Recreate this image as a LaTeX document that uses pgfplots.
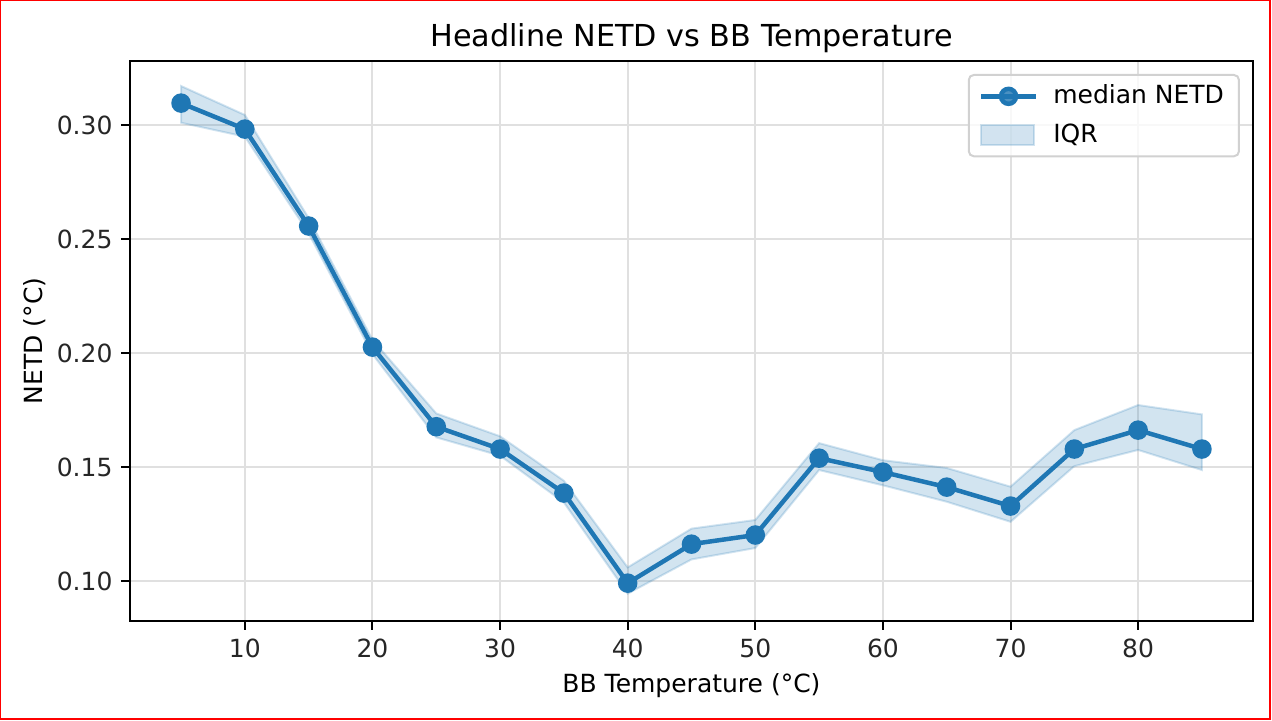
\documentclass[border=0pt]{standalone}
\usepackage{fontspec}
\setmainfont{DejaVu Sans}
\usepackage{pgfplots}
\pgfplotsset{compat=1.18}
\usepackage{pgfplotstable}
\definecolor{tabblue}{HTML}{1F77B4}
\newlength\px
\setlength\px{0.4pt}

\pgfplotsset{
    iqr legend/.style={legend image code/.code={\draw[#1, sharp corners] (0pt,-4pt) rectangle (21pt,4pt);}},
    med legend/.style={legend image code/.code={\draw[mark repeat=2, mark phase=2, sharp corners] plot coordinates {(0pt,0pt) (11pt,0pt) (22pt,0pt)};}},
    every axis title/.style={at={(axis description cs:0.5,1.0262)}, anchor=base, font=\fontsize{12.1}{14}\selectfont},
}

% median NETD per blackbody temperature
\pgfplotstableread{
x   med
5   0.3096
10  0.2982
15  0.2557
20  0.2026
25  0.1677
30  0.1579
35  0.1386
40  0.0991
45  0.1162
50  0.1202
55  0.1539
60  0.1478
65  0.1412
70  0.1329
75  0.1579
80  0.1662
85  0.1579
}\median

% IQR band outline: q3 going up in x, then q1 coming back
\pgfplotstableread{
x   y
5   0.3171
10  0.3044
15  0.2592
20  0.2058
25  0.1735
30  0.1635
35  0.1440
40  0.1060
45  0.1230
50  0.1268
55  0.1605
60  0.1530
65  0.1496
70  0.1414
75  0.1662
80  0.1772
85  0.1731
85  0.1487
80  0.1575
75  0.1504
70  0.1260
65  0.1348
60  0.1420
55  0.1487
50  0.1145
45  0.1095
40  0.0945
35  0.1345
30  0.1550
25  0.1630
20  0.1995
15  0.2525
10  0.2949
5   0.3010
}\iqr

\begin{document}
\begin{tikzpicture}
\useasboundingbox (0,0) rectangle (1272\px,720\px);
\draw[red, line width=1.5\px] (0.75\px,1\px) rectangle (1270\px,719.25\px);
\begin{axis}[
    at={(130\px,99\px)}, anchor=south west,
    scale only axis, width=1123\px, height=560.3\px,
    xmin=1, xmax=89, ymin=0.0825, ymax=0.3282,
    xtick={10,20,...,80},
    ytick={0.10,0.15,0.20,0.25,0.30},
    /pgf/number format/assume math mode=true,
    yticklabel style={/pgf/number format/.cd, fixed, fixed zerofill, precision=2},
    every tick label/.append style={font=\fontsize{10}{12}\selectfont, text=black!85},
    tick align=outside, tick pos=left,
    major tick length=3.5pt,
    every tick/.style={black, line width=0.8pt},
    axis line style={black, line width=0.8pt},
    grid=major,
    major grid style={black!12, line width=0.8pt},
    title={Headline NETD vs BB Temperature},
    xlabel={BB Temperature (°C)},
    xlabel style={at={(axis description cs:0.5,-0.128)}, anchor=base, font=\fontsize{10}{12}\selectfont},
    ylabel={NETD (°C)},
    ylabel style={at={(axis description cs:-0.0777,0.5)}, anchor=base, font=\fontsize{10}{12}\selectfont},
    legend cell align=left,
    legend style={at={(rel axis cs:0.9884,0.9763)}, anchor=north east,
        draw=black!18, line width=0.8pt, rounded corners=2pt,
        fill=white, fill opacity=0.8, text opacity=1,
        font=\fontsize{10}{12}\selectfont,
        inner xsep=4pt, inner ysep=2pt, row sep=2.5pt,
        /tikz/every odd column/.append style={column sep=4pt}},
]
\addplot[tabblue, line width=1.8pt, mark=*, mark size=3pt, mark options={solid}, med legend]
    table[x=x, y=med] {\median};
\addlegendentry{median NETD}
\addplot[fill=tabblue, fill opacity=0.2, draw=tabblue, draw opacity=0.2, line width=0.8pt, iqr legend]
    table[x=x, y=y] {\iqr} -- cycle;
\addlegendentry{IQR}
\end{axis}
\end{tikzpicture}
\end{document}
